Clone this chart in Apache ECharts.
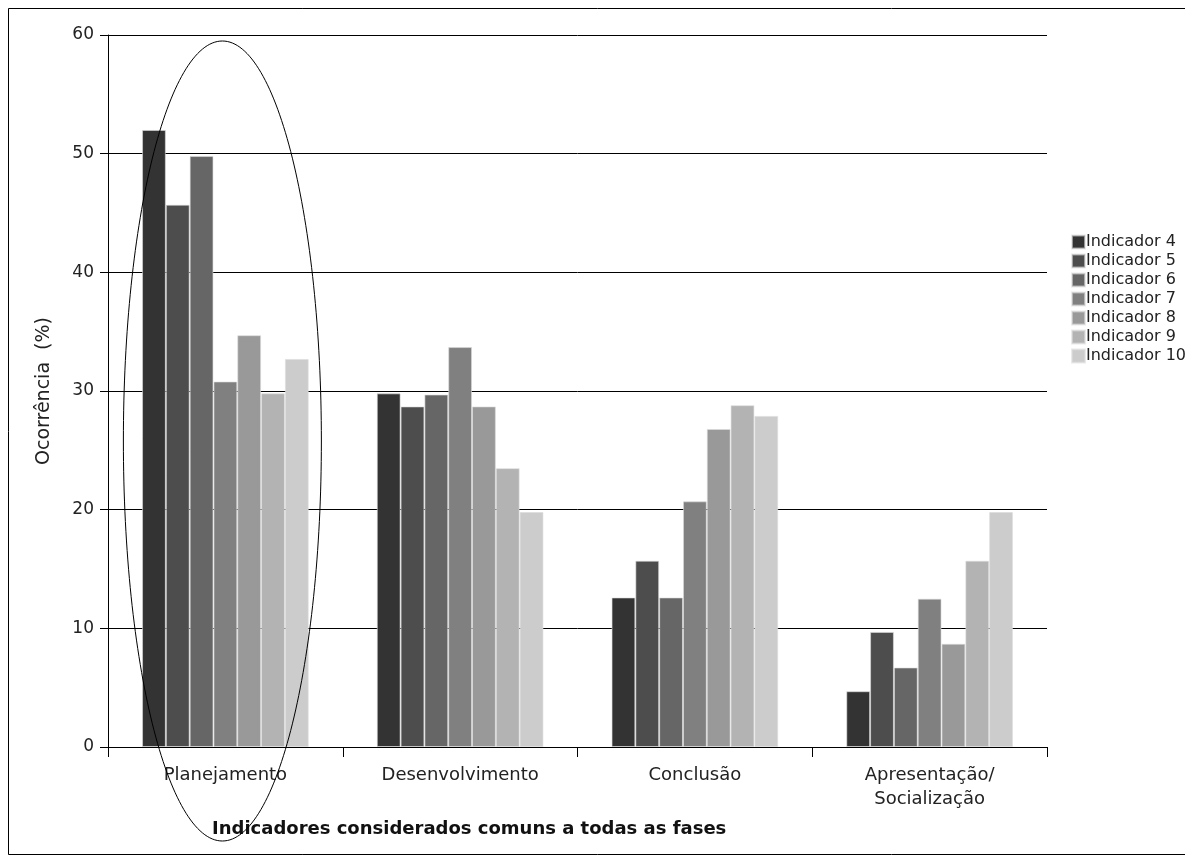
<!DOCTYPE html>
<html>
<head>
<meta charset="utf-8">
<script src="https://cdn.jsdelivr.net/npm/echarts@6/dist/echarts.min.js"></script>
<style>
html,body{margin:0;padding:0;background:#fff;}
#chart{width:1185px;height:860px;}
</style>
</head>
<body>
<div id="chart"></div>
<script>
const categories = ['Planejamento', 'Desenvolvimento', 'Conclusão', 'Apresentação/\nSocialização'];
const seriesNames = ['Indicador 4', 'Indicador 5', 'Indicador 6', 'Indicador 7', 'Indicador 8', 'Indicador 9', 'Indicador 10'];
const indicador4 = [52.0, 29.8, 12.6, 4.7];
const indicador5 = [45.7, 28.7, 15.7, 9.7];
const indicador6 = [49.8, 29.7, 12.6, 6.7];
const indicador7 = [30.8, 33.7, 20.7, 12.5];
const indicador8 = [34.7, 28.7, 26.8, 8.7];
const indicador9 = [29.8, 23.5, 28.8, 15.7];
const indicador10 = [32.7, 19.8, 27.9, 19.8];
const yTicks = [0, 10, 20, 30, 40, 50, 60];
const colors = ['#333333', '#4d4d4d', '#666666', '#808080', '#999999', '#b3b3b3', '#cccccc'];
const allData = [indicador4, indicador5, indicador6, indicador7, indicador8, indicador9, indicador10];

const FONT = 'DejaVu Sans';
const chart = echarts.init(document.getElementById('chart'));
const option = {
  animation: false,
  backgroundColor: '#ffffff',
  textStyle: { fontFamily: FONT },
  grid: { left: 108, right: 138, top: 35, bottom: 113 },
  legend: {
    orient: 'vertical',
    left: 1066,
    top: 229,
    itemWidth: 13,
    itemHeight: 13,
    itemGap: 3,
    icon: 'rect',
    data: seriesNames,
    textStyle: { fontFamily: FONT, fontSize: 16, color: '#222', padding: [0, 0, 0, -4] }
  },
  xAxis: {
    type: 'category',
    data: categories,
    axisLine: { lineStyle: { color: '#000', width: 1 } },
    axisTick: { show: true, length: 10, lineStyle: { color: '#000' } },
    axisLabel: { fontFamily: FONT, fontSize: 18, color: '#222', margin: 16, lineHeight: 24 },
    splitLine: { show: false }
  },
  yAxis: {
    type: 'value',
    min: yTicks[0],
    max: yTicks[yTicks.length - 1],
    interval: 10,
    name: 'Ocorrência  (%)',
    nameLocation: 'middle',
    nameGap: 54,
    nameTextStyle: { fontFamily: FONT, fontSize: 19, color: '#222' },
    axisLine: { show: true, lineStyle: { color: '#000', width: 1 } },
    axisTick: { show: true, length: 8, lineStyle: { color: '#000' } },
    axisLabel: { fontFamily: FONT, fontSize: 17, color: '#222', margin: 14 },
    splitLine: { show: true, lineStyle: { color: '#000', width: 1 } }
  },
  series: seriesNames.map((name, i) => ({
    name: name,
    type: 'bar',
    data: allData[i],
    barGap: '0%',
    barCategoryGap: '29%',
    itemStyle: { color: colors[i], borderColor: 'rgba(220,220,220,0.6)', borderWidth: 1 }
  }))
};
chart.setOption(option);

const cx = chart.convertToPixel({ xAxisIndex: 0 }, categories[0]) - 3;
chart.setOption({
  graphic: [
    {
      type: 'rect',
      shape: { x: 8.5, y: 8.5, width: 1190, height: 846 },
      style: { fill: 'none', stroke: '#000', lineWidth: 1 },
      silent: true
    },
    {
      type: 'ellipse',
      shape: { cx: cx, cy: 441, rx: 99, ry: 400 },
      style: { fill: 'none', stroke: '#000', lineWidth: 1 },
      silent: true,
      z: 100
    },
    {
      type: 'text',
      left: 212,
      top: 820,
      style: {
        text: 'Indicadores considerados comuns a todas as fases',
        font: 'bold 18px "DejaVu Sans"',
        fill: '#111'
      }
    }
  ]
});
</script>
</body>
</html>
